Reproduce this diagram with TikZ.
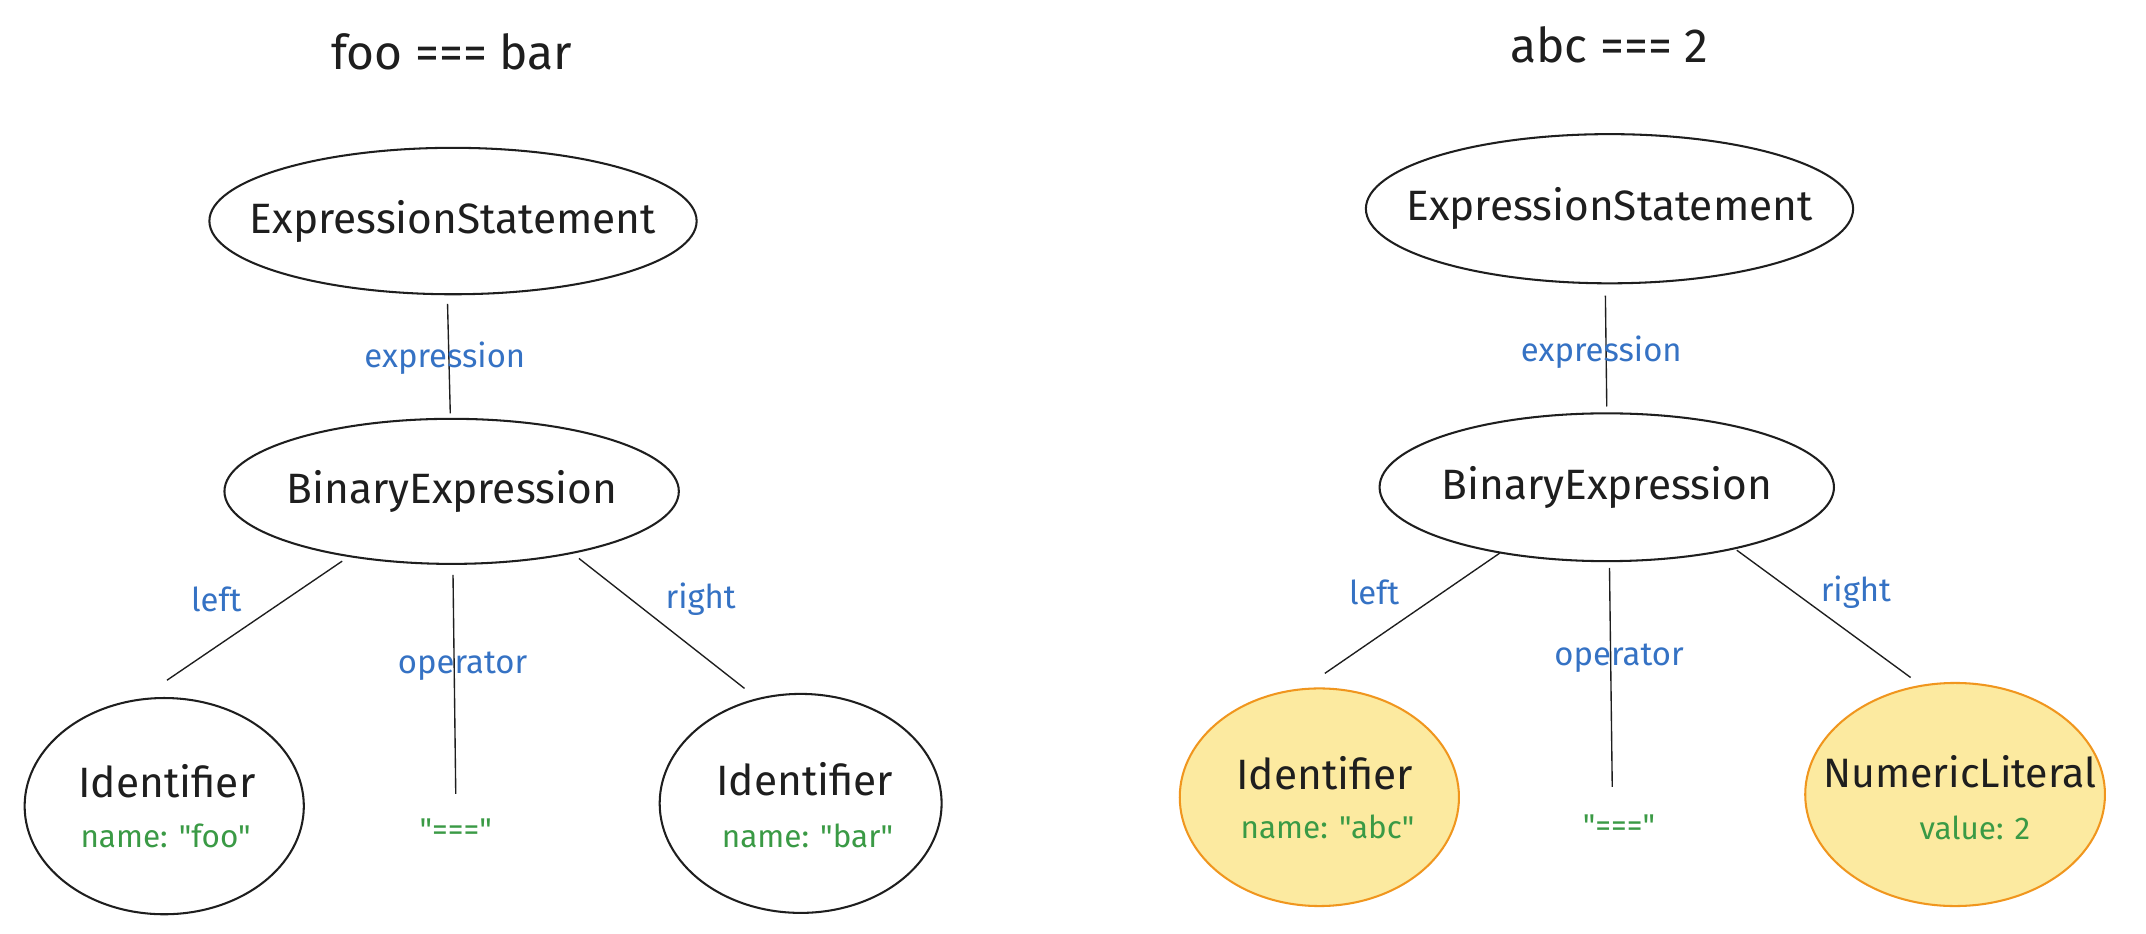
\documentclass[tikz,border=0pt]{standalone}
\usepackage{fontspec}
\setmainfont{Fira Sans}[Ligatures=TeXOff]
\usetikzlibrary{shapes.geometric,calc}
\definecolor{ink}{HTML}{1E1E1E}
\definecolor{lblblue}{HTML}{3572C4}
\definecolor{valgreen}{HTML}{3A9A45}
\definecolor{yfill}{HTML}{FCEAA0}
\definecolor{yorange}{HTML}{F0961E}
\begin{document}
\begin{tikzpicture}[x=0.5pt,y=-0.5pt,
  ell/.style={ellipse, draw=ink, line width=0.75pt, inner sep=0pt},
  yell/.style={ell, draw=yorange, fill=yfill},
  txt/.style={font=\fontsize{15.5}{18}\selectfont, text=ink, align=center, inner sep=0pt},
  lbl/.style={font=\fontsize{12}{14}\selectfont, text=lblblue, inner sep=0pt},
  val/.style={font=\fontsize{11.5}{13}\selectfont, text=valgreen, inner sep=0pt},
  ttl/.style={font=\fontsize{17.5}{20}\selectfont, text=ink, inner sep=0pt},
  edge/.style={draw=ink, line width=0.5pt}]
\useasboundingbox (0,0) rectangle (1568,682);
\fill[white] (0,0) rectangle (1568,682);

% ---------- left tree ----------
\node[ttl] (t1) at (330,38) {foo === bar};
\node[ell, minimum width=178pt, minimum height=53.5pt] (es1) at (331,161.5) {};
\node[txt] (es1t) at (es1) {ExpressionStatement};
\node[ell, minimum width=166pt, minimum height=53pt] (be1) at (330,359) {};
\node[txt] (be1t) at (be1) {BinaryExpression};
\node[ell, minimum width=102pt, minimum height=79pt] (idl1) at (120,589) {};
\node[txt] (idl1t) at (122,571) {Identifier};
\node[val] (idl1v) at (121,611) {name: "foo"};
\node[ell, minimum width=103pt, minimum height=80pt] (idr1) at (585,587) {};
\node[txt] (idr1t) at (588,569) {Identifier};
\node[val] (idr1v) at (590,611) {name: "bar"};
\node[val] (op1) at (333,606) {"==="};

\draw[edge] ($(es1)+(-4,60.5)$) -- ($(be1)+(-1,-57)$);
\draw[edge] ($(be1)+(-80,51)$) -- ($(idl1)+(2,-92)$);
\draw[edge] ($(be1)+(1,61)$) -- ($(op1)+(0,-26)$);
\draw[edge] ($(be1)+(93,49)$) -- ($(idr1)+(-41,-84)$);

\node[lbl] (l1a) at (325,262) {expression};
\node[lbl] (l1b) at (158,438) {left};
\node[lbl] (l1c) at (338,487) {operator};
\node[lbl] (l1d) at (512,438) {right};

% ---------- right tree ----------
\node[ttl] (t2) at (1176,33) {abc === 2};
\node[ell, minimum width=178pt, minimum height=54.5pt] (es2) at (1176,152.5) {};
\node[txt] (es2t) at (es2) {ExpressionStatement};
\node[ell, minimum width=166pt, minimum height=54pt] (be2) at (1174,356) {};
\node[txt] (be2t) at (be2) {BinaryExpression};
\node[yell, minimum width=102pt, minimum height=79.5pt] (idl2) at (964,582.5) {};
\node[txt] (idl2t) at (968,565) {Identifier};
\node[val] (idl2v) at (970,604) {name: "abc"};
\node[yell, minimum width=109.5pt, minimum height=81.5pt] (nl2) at (1428.5,580.5) {};
\node[txt, font=\fontsize{15}{18}\selectfont] (nl2t) at (1432,564) {NumericLiteral};
\node[val] (nl2v) at (1443,605) {value: 2};
\node[val] (op2) at (1183,603) {"==="};

\draw[edge] ($(es2)+(-3,63.5)$) -- ($(be2)+(0,-59)$);
\draw[edge] ($(be2)+(-78,48)$) -- ($(idl2)+(4,-90.5)$);
\draw[edge] ($(be2)+(2,59)$) -- ($(op2)+(-5,-28)$);
\draw[edge] ($(be2)+(95,46)$) -- ($(nl2)+(-32.5,-85.5)$);

\node[lbl] (l2a) at (1170,257) {expression};
\node[lbl] (l2b) at (1004,433) {left};
\node[lbl] (l2c) at (1183,481) {operator};
\node[lbl] (l2d) at (1356,433) {right};
\end{tikzpicture}
\end{document}
